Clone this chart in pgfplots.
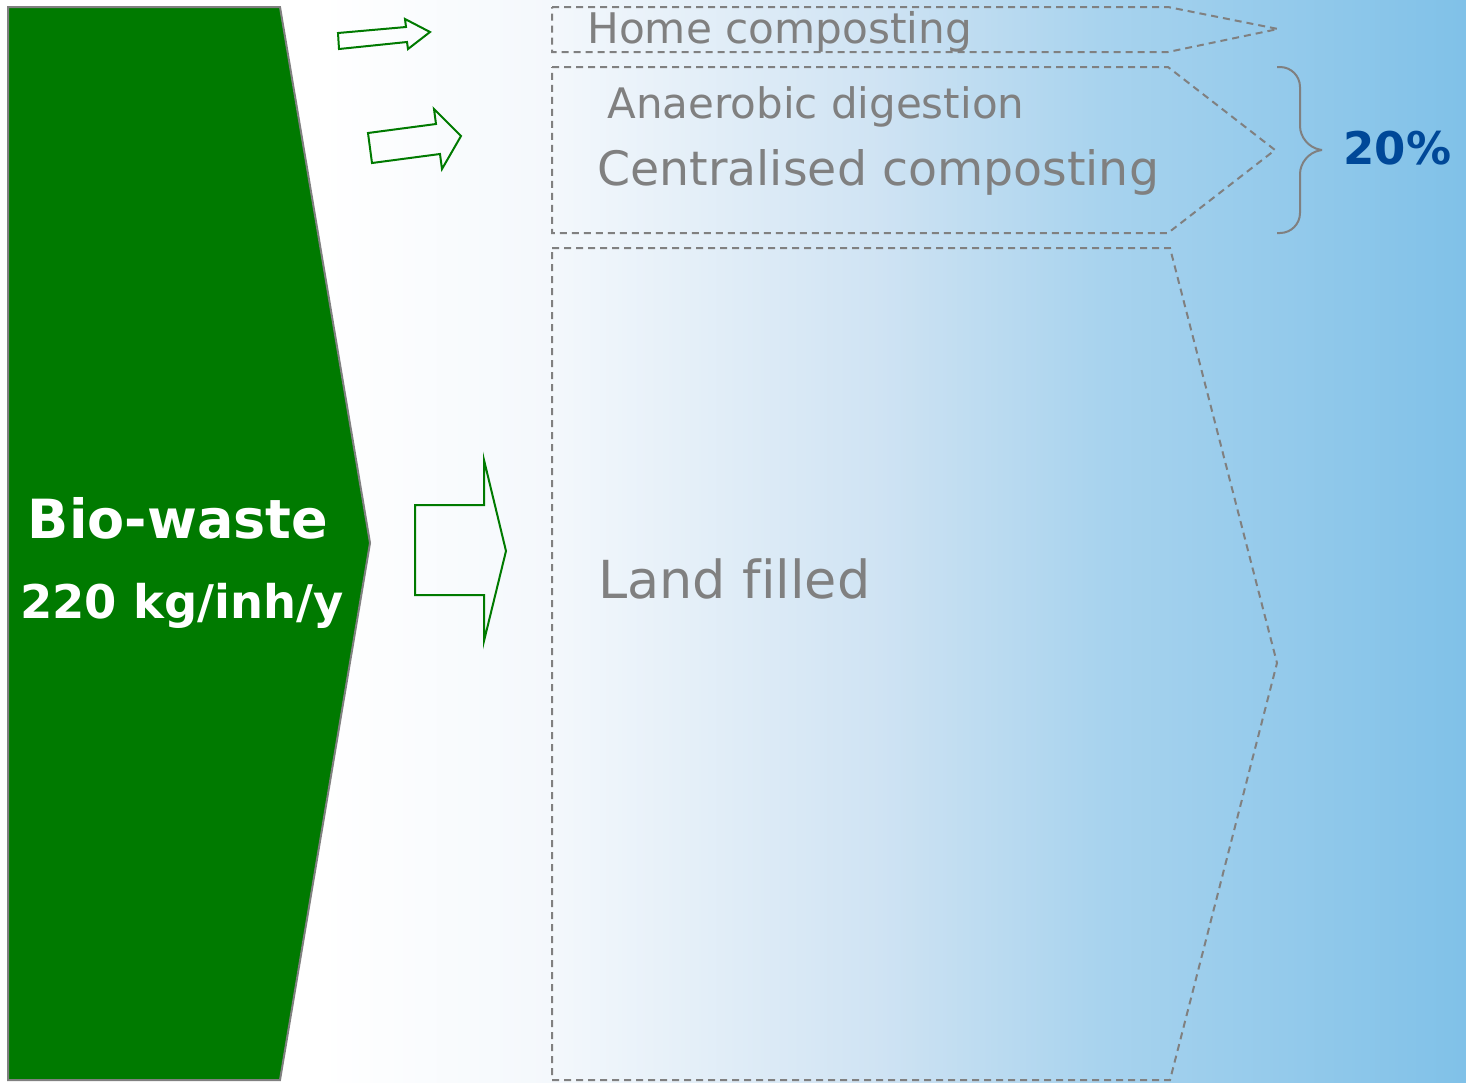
\documentclass[border=0pt]{standalone}
\usepackage{pgfplots}
\pgfplotsset{compat=1.18}
\usepackage{fontspec}
\setmainfont[Ligatures=NoCommon]{DejaVu Sans}

\definecolor{leafgreen}{RGB}{0,122,0}
\definecolor{linegray}{RGB}{128,128,128}
\definecolor{pctblue}{RGB}{0,72,152}
\definecolor{bgA}{RGB}{244,248,252}
\definecolor{bgB}{RGB}{207,227,243}
\definecolor{bgC}{RGB}{168,211,238}
\definecolor{bgD}{RGB}{128,193,232}

\begin{document}
\begin{tikzpicture}
\begin{axis}[
    width=733pt, height=541pt, scale only axis,
    xmin=0, xmax=1466, ymin=0, ymax=1082,
    y dir=reverse,
    hide axis,
    clip=false,
]
% background, white to light blue in pieces
\addplot[draw=none, fill=white] coordinates {(0,0) (322,0) (322,1082) (0,1082)} -- cycle;
\addplot[draw=none, left color=white, right color=bgA] coordinates {(320,0) (552,0) (552,1082) (320,1082)} -- cycle;
\addplot[draw=none, left color=bgA, right color=bgB] coordinates {(550,0) (882,0) (882,1082) (550,1082)} -- cycle;
\addplot[draw=none, left color=bgB, right color=bgC] coordinates {(880,0) (1102,0) (1102,1082) (880,1082)} -- cycle;
\addplot[draw=none, left color=bgC, right color=bgD] coordinates {(1100,0) (1466,0) (1466,1082) (1100,1082)} -- cycle;

% bio-waste block
\addplot[fill=leafgreen, draw=linegray, line width=1pt] coordinates {
    (8,7) (280,7) (370,543) (280,1080) (8,1080)} -- cycle;

% outline arrows
\addplot[draw=leafgreen, line width=1pt, fill=none] coordinates {
    (338,33) (406,27) (405,19) (430,32) (408,49) (407,42) (339,49)} -- cycle;
\addplot[draw=leafgreen, line width=1pt, fill=none] coordinates {
    (368,133) (436,124) (434,109) (461,136) (442,169) (440,154) (372,163)} -- cycle;
\addplot[draw=leafgreen, line width=1pt, fill=none] coordinates {
    (415,505) (484,505) (484,460) (506,551) (484,641) (484,595) (415,595)} -- cycle;

% dashed destination boxes
\addplot[draw=linegray, line width=1pt, dash pattern=on 3.5pt off 2.5pt] coordinates {
    (552,7) (1168,7) (1278,29) (1168,52) (552,52)} -- cycle;
\addplot[draw=linegray, line width=1pt, dash pattern=on 3.5pt off 2.5pt] coordinates {
    (552,67) (1168,67) (1275,150) (1168,233) (552,233)} -- cycle;
\addplot[draw=linegray, line width=1pt, dash pattern=on 3.5pt off 2.5pt] coordinates {
    (552,248) (1170,248) (1277,663) (1170,1080) (552,1080)} -- cycle;

% brace
\addplot[draw=linegray, line width=1pt, rounded corners=10pt] coordinates {
    (1277,67) (1300,67) (1300,146) (1322,150)};
\addplot[draw=linegray, line width=1pt, rounded corners=10pt] coordinates {
    (1322,150) (1300,154) (1300,233) (1277,233)};

% labels
\node[anchor=base, text=white, font=\fontsize{27pt}{30pt}\selectfont\bfseries] at (axis cs:178,538) {Bio-waste};
\node[anchor=base, text=white, font=\fontsize{23.2pt}{26pt}\selectfont\bfseries] at (axis cs:182,618) {220 kg/inh/y};
\node[anchor=base west, inner sep=0pt, text=linegray, font=\fontsize{21.1pt}{24pt}\selectfont] at (axis cs:587,43) {Home composting};
\node[anchor=base west, inner sep=0pt, text=linegray, font=\fontsize{21pt}{24pt}\selectfont] at (axis cs:607,118) {Anaerobic digestion};
\node[anchor=base west, inner sep=0pt, text=linegray, font=\fontsize{23.7pt}{26pt}\selectfont] at (axis cs:597,185) {Centralised composting};
\node[anchor=base west, inner sep=0pt, text=linegray, font=\fontsize{26.2pt}{30pt}\selectfont] at (axis cs:598,598) {Land filled};
\node[anchor=base west, inner sep=0pt, text=pctblue, font=\fontsize{22.5pt}{26pt}\selectfont\bfseries] at (axis cs:1343,164) {20\%};
\end{axis}
\end{tikzpicture}
\end{document}
